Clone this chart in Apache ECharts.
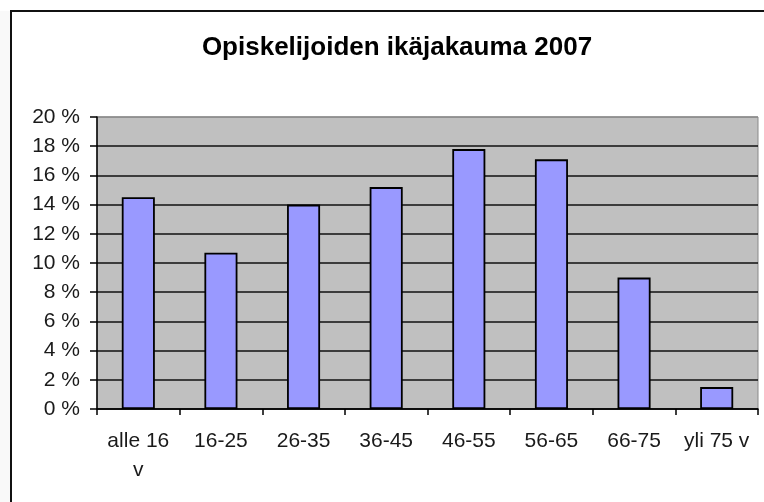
<!DOCTYPE html>
<html>
<head>
<meta charset="utf-8">
<script src="https://cdn.jsdelivr.net/npm/echarts@6/dist/echarts.min.js"></script>
<style>
html,body{margin:0;padding:0;background:#fff;}
#chart{width:764px;height:502px;}
</style>
</head>
<body>
<div id="chart"></div>
<script>
var titleText = 'Opiskelijoiden ikäjakauma 2007';
var categories = ['alle 16\nv', '16-25', '26-35', '36-45', '46-55', '56-65', '66-75', 'yli 75 v'];
var shares = [14.5, 10.7, 14.0, 15.2, 17.8, 17.1, 9.0, 1.5];
var yMin = 0, yMax = 20, yStep = 2;

var chart = echarts.init(document.getElementById('chart'), null, {renderer: 'canvas'});
var font = '"Liberation Sans", Arial, sans-serif';
var gridColors = [];
for (var v = yMin; v <= yMax; v += yStep) gridColors.push(v === yMax ? '#8a8a8a' : '#111');

chart.setOption({
  animation: false,
  backgroundColor: '#ffffff',
  title: {
    text: titleText,
    left: 392,
    top: 30,
    textAlign: 'center',
    textStyle: {fontFamily: font, fontSize: 26, fontWeight: 'bold', color: '#000'}
  },
  graphic: [
    {type: 'rect', shape: {x: 0, y: 11, width: 10, height: 500}, style: {fill: '#f9f9f9'}, silent: true},
    {type: 'rect', shape: {x: 11, y: 11, width: 800, height: 600}, style: {fill: null, stroke: '#111', lineWidth: 2}, silent: true}
  ],
  grid: {
    left: 97, top: 117, right: 6, bottom: 93,
    show: true, backgroundColor: '#c0c0c0', borderColor: '#8a8a8a', borderWidth: 1
  },
  xAxis: {
    type: 'category',
    data: categories,
    axisLine: {lineStyle: {color: '#000', width: 1.5}},
    axisTick: {show: true, alignWithLabel: false, length: 6, lineStyle: {color: '#000', width: 1.5}},
    axisLabel: {fontFamily: font, fontSize: 21, color: '#1a1a1a', margin: 18, lineHeight: 29, interval: 0}
  },
  yAxis: {
    type: 'value',
    min: yMin, max: yMax, interval: yStep,
    axisLine: {show: true, lineStyle: {color: '#000', width: 1.5}},
    axisTick: {show: true, length: 7, lineStyle: {color: '#000', width: 1.5}},
    axisLabel: {fontFamily: font, fontSize: 21, color: '#1a1a1a', margin: 17, formatter: '{value} %'},
    splitLine: {show: true, lineStyle: {color: gridColors, width: 1.6}}
  },
  series: [{
    type: 'bar',
    data: shares,
    barWidth: '40%',
    itemStyle: {color: '#9999ff', borderColor: '#000', borderWidth: 1.8}
  }]
});
</script>
</body>
</html>
